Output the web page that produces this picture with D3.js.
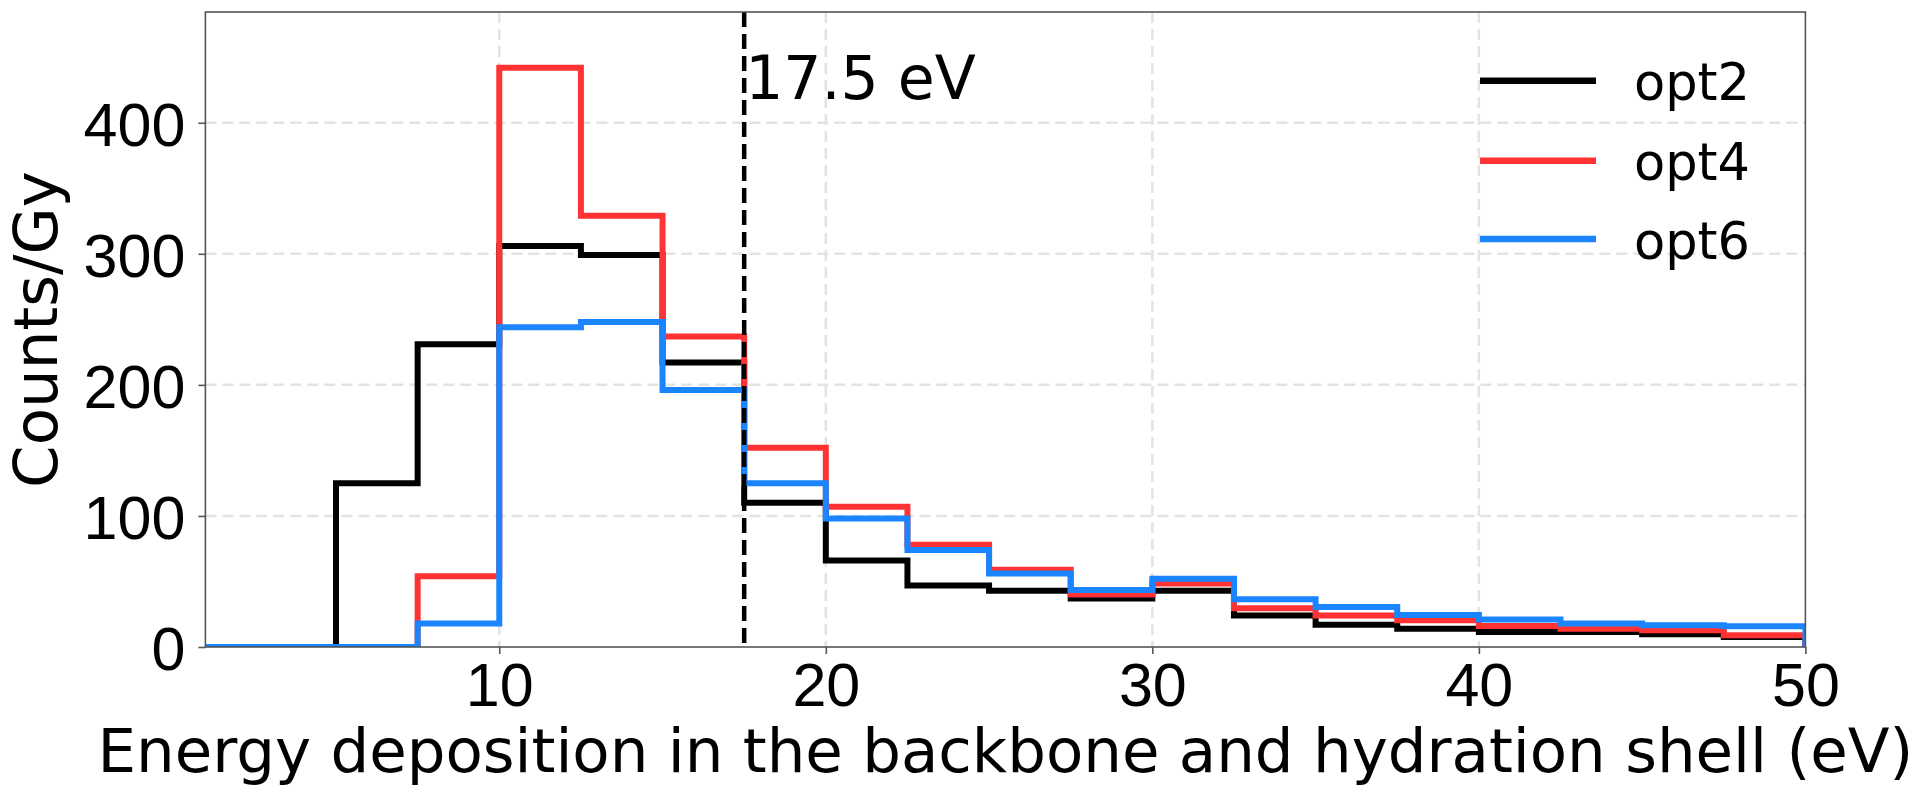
<!DOCTYPE html>
<html lang="en">
<head>
<meta charset="UTF-8">
<title>Energy deposition histogram</title>
<script src="https://d3js.org/d3.v7.min.js"></script>
<style>
    body { margin: 0; background: #fff; }
    svg { display: block; font-family: "DejaVu Sans", sans-serif; }
    .grid line { stroke: #e3e3e3; stroke-width: 2.5; stroke-dasharray: 11,6; }
    .axis path { display: none; }
    .axis line { stroke: #555; stroke-width: 1.6; }
    .axis text { font-size: 61px; fill: #000; }
</style>
</head>
<body>
<svg id="chart" width="1920" height="796"></svg>
<script>
    // bin edges (eV) and counts per Gy for each option
    const binEdges = [0, 2.5, 5, 7.5, 10, 12.5, 15, 17.5, 20, 22.5, 25, 27.5, 30, 32.5, 35, 37.5, 40, 42.5, 45, 47.5, 50];
    const opt2 = [0, 0, 125, 231, 306, 299, 217, 110, 66, 47, 43, 37, 43, 24, 17, 14, 11.5, 11.5, 9.7, 7.7];
    const opt4 = [0, 0, 0, 54, 442, 329, 237, 152, 107, 78, 59, 40, 48.5, 29.5, 24, 20.5, 16, 14, 12.8, 9];
    const opt6 = [0, 0, 0, 18, 244, 248, 196, 125, 98, 74, 56, 43.5, 52, 36.5, 30.5, 24.5, 21, 18, 16.6, 15.8];

    const seriesNames = ["opt2", "opt4", "opt6"];
    const seriesColors = ["#000000", "#ff3333", "#1a85ff"];
    const seriesValues = [opt2, opt4, opt6];

    const xTicks = [10, 20, 30, 40, 50];
    const yTicks = [0, 100, 200, 300, 400];
    const threshold = 17.5;

    const margin = { left: 205.4, right: 1805.4, top: 12, bottom: 647 };

    const svg = d3.select("#chart");

    const x = d3.scaleLinear().domain([1, 50]).range([margin.left, margin.right]);
    const y = d3.scaleLinear().domain([0, 484.5]).range([margin.bottom, margin.top]);

    svg.append("defs").append("clipPath").attr("id", "plot-clip")
        .append("rect")
        .attr("x", margin.left).attr("y", margin.top)
        .attr("width", margin.right - margin.left)
        .attr("height", margin.bottom - margin.top);

    // grid
    const grid = svg.append("g").attr("class", "grid");
    grid.selectAll(".gx").data(xTicks.filter(d => d < 50)).enter().append("line")
        .attr("x1", d => x(d)).attr("x2", d => x(d))
        .attr("y1", margin.top).attr("y2", margin.bottom);
    grid.selectAll(".gy").data(yTicks.filter(d => d > 0)).enter().append("line")
        .attr("x1", margin.left).attr("x2", margin.right)
        .attr("y1", d => y(d)).attr("y2", d => y(d));

    // step histograms
    const line = d3.line().x(d => x(d[0])).y(d => y(d[1])).curve(d3.curveStepAfter);

    function stepPoints(values) {
        const pts = [[binEdges[0], 0]];
        values.forEach((v, i) => pts.push([binEdges[i], v]));
        pts.push([binEdges[binEdges.length - 1], values[values.length - 1]]);
        pts.push([binEdges[binEdges.length - 1], 0]);
        return pts;
    }

    const plot = svg.append("g").attr("clip-path", "url(#plot-clip)");
    seriesValues.forEach((vals, i) => {
        plot.append("path")
            .attr("d", line(stepPoints(vals)))
            .attr("fill", "none")
            .attr("stroke", seriesColors[i])
            .attr("stroke-width", 6)
            .attr("stroke-linejoin", "miter");
    });

    // threshold line
    plot.append("line")
        .attr("x1", x(threshold)).attr("x2", x(threshold))
        .attr("y1", margin.top).attr("y2", margin.bottom)
        .attr("stroke", "#000").attr("stroke-width", 4.5)
        .attr("stroke-dasharray", "15,7");

    svg.append("text")
        .attr("x", x(threshold) + 1).attr("y", y(418))
        .attr("font-size", 60)
        .text("17.5 eV");

    // frame
    svg.append("rect")
        .attr("x", margin.left).attr("y", margin.top)
        .attr("width", margin.right - margin.left)
        .attr("height", margin.bottom - margin.top)
        .attr("fill", "none").attr("stroke", "#555").attr("stroke-width", 1.6);

    // axes
    svg.append("g").attr("class", "axis")
        .attr("transform", `translate(0,${margin.bottom})`)
        .call(d3.axisBottom(x).tickValues(xTicks).tickSize(7).tickPadding(9));

    svg.append("g").attr("class", "axis")
        .attr("transform", `translate(${margin.left},0)`)
        .call(d3.axisLeft(y).tickValues(yTicks).tickSize(7).tickPadding(13))
        .selectAll("text").attr("dy", "0.37em");

    // axis labels
    svg.append("text")
        .attr("x", (margin.left + margin.right) / 2).attr("y", 772)
        .attr("text-anchor", "middle").attr("font-size", 61)
        .text("Energy deposition in the backbone and hydration shell (eV)");

    svg.append("text")
        .attr("transform", `translate(57,${(margin.top + margin.bottom) / 2}) rotate(-90)`)
        .attr("text-anchor", "middle").attr("font-size", 61)
        .text("Counts/Gy");

    // legend
    const legend = svg.append("g");
    const legendY = [80.7, 160.7, 239];
    seriesNames.forEach((name, i) => {
        legend.append("line")
            .attr("x1", 1480).attr("x2", 1596)
            .attr("y1", legendY[i]).attr("y2", legendY[i])
            .attr("stroke", seriesColors[i]).attr("stroke-width", 6.5);
        legend.append("text")
            .attr("x", 1634).attr("y", legendY[i] + 19.5)
            .attr("font-size", 51)
            .text(name);
    });
</script>
</body>
</html>
